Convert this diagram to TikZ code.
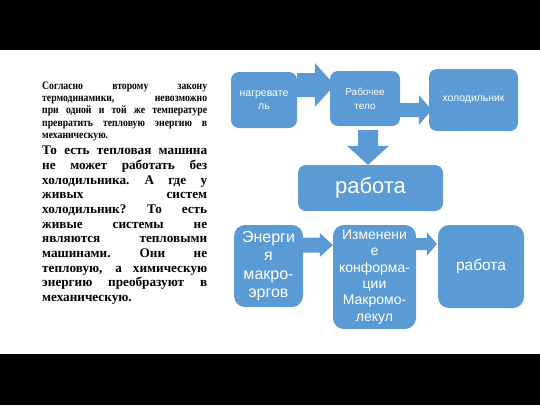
\documentclass[tikz,border=0pt]{standalone}
\usepackage{fontspec}
\setmainfont{Liberation Serif}
\newfontfamily\boxfont{Liberation Sans}
\newfontfamily\narrowserif[FakeStretch=0.86]{Liberation Serif}
\usetikzlibrary{
  calc,
  positioning
}
\definecolor{smartblue}{RGB}{91,155,213}
\tikzset{
  % For the rounded blue boxes.
  block/.style={
    fill=smartblue,
    rounded corners=8pt,
    text=white,
    align=center,
    inner sep=0pt},
%
  % For the big boxes in the lower row.
  big block/.style={
    block,
    rounded corners=11pt},
%
  % For the fat block arrows between the boxes.
  blockarrow/.style={
    fill=smartblue},
%
  % For the black bars above and below.
  bar/.style={
    fill=black},
%
  % For the two paragraphs on the left.
  para/.style={
    anchor=north west,
    inner sep=0pt,
    text width=165pt,
    align=left}
}
% A justified line of the paragraphs: the spaces stretch to the full width.
\newcommand*{\JustLine}[1]{%
  \leavevmode\hbox to 165pt{\spaceskip=0.25em plus 20em\relax
    \xspaceskip=0.3em plus 20em\relax #1}}
% A block arrow: tail, tip, half shaft width, half head width, head length.
\newcommand*{\BlockArrow}[5]{%
  \coordinate (neck) at ($(#2)!#5!(#1)$);
  \fill[blockarrow] ($(#1)!#3!90:(#2)$) -- ($(neck)!#3!90:(#2)$)
    -- ($(neck)!#4!90:(#2)$) -- (#2) -- ($(neck)!#4!-90:(#2)$)
    -- ($(neck)!#3!-90:(#2)$) -- ($(#1)!#3!-90:(#2)$) -- cycle;}

\begin{document}
\begin{tikzpicture}[x=1pt, y=-1pt]
  \useasboundingbox (0,0) rectangle (540,405);
  \fill[bar] (0,0) rectangle (540,50);
  \fill[bar] (0,354) rectangle (540,405);

  % The text on the left.
  \node[para, font=\narrowserif\bfseries\fontsize{11.3}{12.3}\selectfont] (rule) at (42,81.5)
    {\JustLine{Согласно второму закону}\\
     \JustLine{термодинамики, невозможно}\\
     \JustLine{при одной и той же температуре}\\
     \JustLine{превратить тепловую энергию в}\\
     механическую.};
  \node[para, font=\bfseries\fontsize{13.2}{14.67}\selectfont] (living) at (42,146)
    {\JustLine{То есть тепловая машина}\\
     \JustLine{не может работать без}\\
     \JustLine{холодильника. А где у}\\
     \JustLine{живых систем}\\
     \JustLine{холодильник? То есть}\\
     \JustLine{живые системы не}\\
     \JustLine{являются тепловыми}\\
     \JustLine{машинами. Они не}\\
     \JustLine{тепловую, а химическую}\\
     \JustLine{энергию преобразуют в}\\
     механическую.};

  % Heat engine.
  \node[block, minimum width=66pt, minimum height=56pt,
        font=\boxfont\fontsize{10.5}{12.7}\selectfont] (heater) at (264,100)
    {нагревате\\ль};
  \node[block, minimum width=70pt, minimum height=55pt,
        font=\boxfont\fontsize{10}{14}\selectfont] (body) at (365,98.5)
    {Рабочее\\тело};
  \node[block, minimum width=89pt, minimum height=62pt,
        font=\boxfont\fontsize{10.4}{12.5}\selectfont] (cooler) at (473.5,100)
    {холодильник};
  \node[block, minimum width=145pt, minimum height=46pt,
        font=\boxfont\fontsize{22}{25}\selectfont] (work) at (370.5,188)
    {работа};

  \coordinate (heater tail) at (heater.east |- 0,85);
  \coordinate (heater tip) at ($(body.west |- 0,85)+(5,0)$);
  \BlockArrow{heater tail}{heater tip}{12pt}{22pt}{20pt}
  \coordinate (body tail) at (body.east |- 0,110);
  \coordinate (body tip) at ($(cooler.west |- 0,110)+(3,0)$);
  \BlockArrow{body tail}{body tip}{7pt}{15pt}{13pt}
  \coordinate (down tail) at ($(body.south)+(3,4)$);
  \coordinate (down tip) at (down tail |- work.north);
  \BlockArrow{down tail}{down tip}{10pt}{21pt}{19pt}

  % Living systems.
  \node[big block, minimum width=69pt, minimum height=82pt,
        font=\boxfont\fontsize{16}{18.3}\selectfont] (energy) at (268.5,266)
    {Энерги\\я\\макро-\\эргов};
  \node[big block, minimum width=83pt, minimum height=104pt,
        font=\boxfont\fontsize{14}{16.3}\selectfont] (change) at (374.5,277)
    {Изменени\\е\\конформа-\\ции\\Макромо-\\лекул};
  \node[big block, minimum width=86pt, minimum height=83pt,
        font=\boxfont\fontsize{15.5}{18}\selectfont] (output) at (481,266.5)
    {работа};

  \coordinate (energy tail) at (energy.east |- 0,245);
  \coordinate (energy tip) at (change.west |- 0,245);
  \BlockArrow{energy tail}{energy tip}{7.5pt}{12pt}{13pt}
  \coordinate (change tail) at (change.east |- 0,244);
  \coordinate (change tip) at ($(output.west |- 0,244)+(-1,0)$);
  \BlockArrow{change tail}{change tip}{6pt}{12pt}{10pt}
\end{tikzpicture}
\end{document}
